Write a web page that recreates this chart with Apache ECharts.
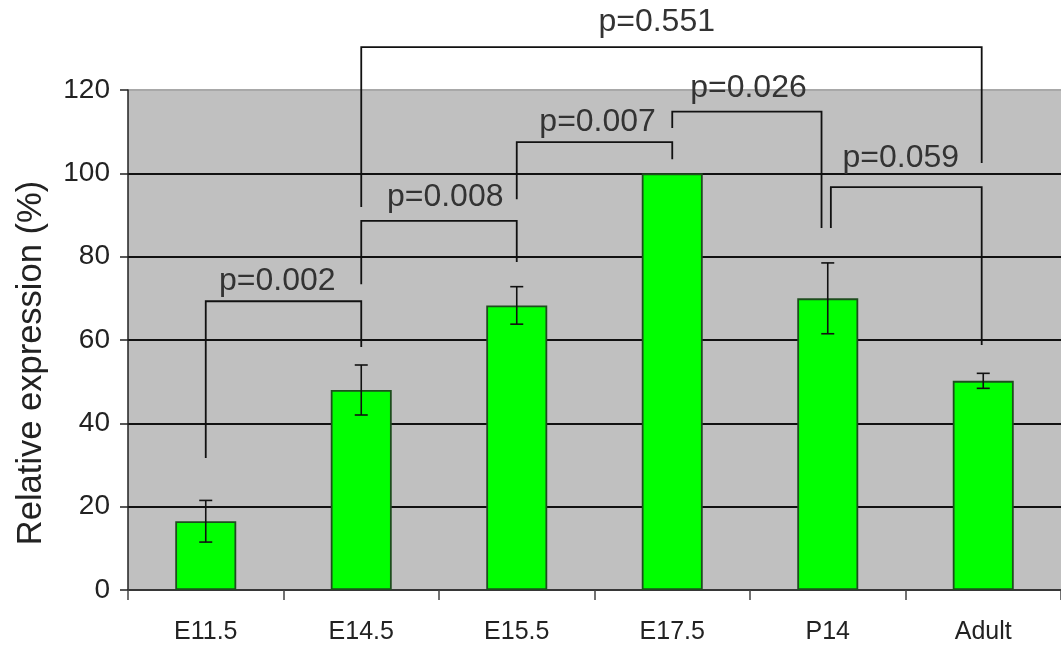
<!DOCTYPE html>
<html>
<head>
<meta charset="utf-8">
<script src="https://cdn.jsdelivr.net/npm/echarts@6/dist/echarts.min.js"></script>
<style>html,body{margin:0;padding:0;background:#fff}#c{width:1061px;height:653px}</style>
</head>
<body>
<div id="c"></div>
<script>
const categories = ['E11.5', 'E14.5', 'E15.5', 'E17.5', 'P14', 'Adult'];
const values = [16.5, 48, 68.3, 100, 70, 50.2];
const errors = [5, 6, 4.5, 0, 8.5, 1.8];
const yMin = 0, yMax = 120, yStep = 20;

// significance brackets (x in category units, y in axis units)
const bracketLabels = ['p=0.002', 'p=0.008', 'p=0.007', 'p=0.026', 'p=0.059', 'p=0.551'];
const bracketLeftX = [0.5, 1.5, 2.5, 3.5, 4.52, 1.5];
const bracketRightX = [1.5, 2.5, 3.5, 4.46, 5.49, 5.49];
const bracketTop = [69.3, 88.6, 107.5, 114.8, 96.7, 130.3];
const bracketLeftEnd = [31.7, 73.4, 93.8, 110.9, 86.9, 91.9];
const bracketRightEnd = [58.3, 78.7, 103.4, 86.9, 58.8, 102.5];
const labelX = [0.96, 2.04, 3.02, 3.99, 4.97, 3.40];
const labelY = [74.0, 94.3, 112.3, 120.5, 103.7, 136.3];

const errData = values.map((v, i) => [i, v - errors[i], v + errors[i], errors[i]]);
const bracketData = bracketLabels.map((t, i) => [bracketLeftX[i], bracketRightX[i], bracketTop[i], bracketLeftEnd[i], bracketRightEnd[i], labelX[i], labelY[i], i]);

const chart = echarts.init(document.getElementById('c'), null, {renderer: 'canvas'});
chart.setOption({
  animation: false,
  backgroundColor: '#ffffff',
  grid: {left: 128, top: 90, width: 936, height: 500, show: true, backgroundColor: '#c0c0c0', borderWidth: 0},
  xAxis: [{
    type: 'category',
    data: categories,
    boundaryGap: true,
    axisLine: {lineStyle: {color: '#444', width: 1.5}},
    axisTick: {show: true, length: 10, lineStyle: {color: '#444', width: 1.5}},
    axisLabel: {fontFamily: '"Liberation Sans", Arial, sans-serif', fontSize: 25, color: '#222', margin: 30}
  }, {
    type: 'value', min: 0, max: 6, show: false
  }],
  yAxis: {
    type: 'value',
    min: yMin, max: yMax, interval: yStep,
    name: 'Relative expression (%)',
    nameLocation: 'middle',
    nameRotate: 90,
    nameGap: 79,
    nameTextStyle: {fontFamily: '"Liberation Sans", Arial, sans-serif', fontSize: 34.5, color: '#222', padding: [0, 46, 0, 0]},
    axisLine: {show: true, lineStyle: {color: '#222', width: 1.5}},
    axisTick: {show: true, length: 8, lineStyle: {color: '#222', width: 1.5}},
    axisLabel: {fontFamily: '"Liberation Sans", Arial, sans-serif', fontSize: 28, color: '#222', margin: 18},
    splitLine: {show: true, lineStyle: {color: ['#111', '#111', '#111', '#111', '#111', '#111', '#a8a8a8'], width: 2}}
  },
  series: [{
    type: 'bar',
    data: values,
    barWidth: 61,
    itemStyle: {color: '#00ff00', borderColor: '#1e4d1e', borderWidth: 1.8},
    z: 2
  }, {
    type: 'custom',
    data: errData,
    z: 3,
    renderItem: function (params, api) {
      if (api.value(3) <= 0) return null;
      const lo = api.coord([api.value(0), api.value(1)]);
      const hi = api.coord([api.value(0), api.value(2)]);
      const w = 6.5;
      const st = {stroke: '#111', lineWidth: 1.6};
      return {type: 'group', children: [
        {type: 'line', shape: {x1: lo[0], y1: lo[1], x2: hi[0], y2: hi[1]}, style: st},
        {type: 'line', shape: {x1: lo[0] - w, y1: lo[1], x2: lo[0] + w, y2: lo[1]}, style: st},
        {type: 'line', shape: {x1: hi[0] - w, y1: hi[1], x2: hi[0] + w, y2: hi[1]}, style: st}
      ]};
    }
  }, {
    type: 'custom',
    xAxisIndex: 1,
    data: bracketData,
    z: 4,
    clip: false,
    renderItem: function (params, api) {
      const lx = api.value(0), rx = api.value(1), top = api.value(2);
      const p1 = api.coord([lx, api.value(3)]);
      const p2 = api.coord([lx, top]);
      const p3 = api.coord([rx, top]);
      const p4 = api.coord([rx, api.value(4)]);
      const t = api.coord([api.value(5), api.value(6)]);
      return {type: 'group', children: [
        {type: 'polyline', shape: {points: [p1, p2, p3, p4]}, style: {stroke: '#111', lineWidth: 1.8, fill: null}},
        {type: 'text', style: {text: bracketLabels[api.value(7)], x: t[0], y: t[1], fill: '#333', font: '32px "Liberation Sans", Arial, sans-serif', align: 'center', verticalAlign: 'middle'}}
      ]};
    }
  }]
});
</script>
</body>
</html>
